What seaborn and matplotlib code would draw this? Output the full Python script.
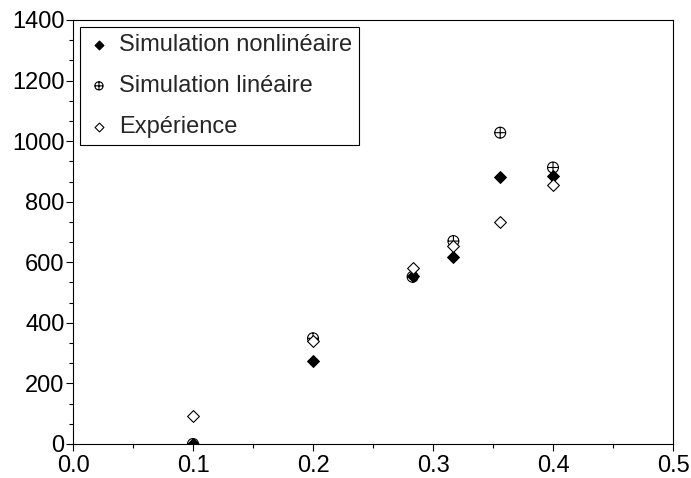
import numpy as np
import pandas as pd
import matplotlib
matplotlib.use('Agg')
import matplotlib.pyplot as plt
from matplotlib.path import Path
from matplotlib.ticker import MultipleLocator, AutoMinorLocator
import seaborn as sns

# ---- data ----
x_vals = [0.1, 0.2, 0.283, 0.317, 0.356, 0.4]
sim_nonlin = [0, 275, 556, 618, 882, 885]
sim_lin = [0, 349, 552, 670, 1028, 913]
experience = [92, 341, 580, 653, 734, 854]

labels = ['Simulation nonlinéaire', 'Simulation linéaire', 'Expérience']

sns.set_theme(style='ticks')
plt.rcParams['font.family'] = ['Liberation Sans', 'DejaVu Sans']

# circle with a cross (⊕) marker
circ = Path.unit_circle()
cross = Path([(-1, 0), (1, 0), (0, -1), (0, 1)],
             [Path.MOVETO, Path.LINETO, Path.MOVETO, Path.LINETO])
oplus = Path.make_compound_path(circ, cross)

fig = plt.figure(figsize=(6.91, 4.78), dpi=100)
ax = fig.add_axes([73 / 691, 34 / 478, 600 / 691, 424 / 478])

df_nl = pd.DataFrame({'x': x_vals, 'y': sim_nonlin})
df_l = pd.DataFrame({'x': x_vals, 'y': sim_lin})
df_e = pd.DataFrame({'x': x_vals, 'y': experience})

sns.scatterplot(data=df_l, x='x', y='y', marker=oplus, s=62,
                facecolor='none', edgecolor='black', linewidth=0.8,
                label=labels[1], ax=ax, zorder=3)
sns.scatterplot(data=df_nl, x='x', y='y', marker='D', s=36,
                color='black', edgecolor='black', linewidth=0.8,
                label=labels[0], ax=ax, zorder=4)
sns.scatterplot(data=df_e, x='x', y='y', marker='D', s=36,
                facecolor='white', edgecolor='black', linewidth=0.8,
                label=labels[2], ax=ax, zorder=5)

ax.set_xlim(0, 0.5)
ax.set_ylim(0, 1400)
ax.xaxis.set_major_locator(MultipleLocator(0.1))
ax.xaxis.set_minor_locator(AutoMinorLocator(2))
ax.yaxis.set_major_locator(MultipleLocator(200))
ax.yaxis.set_minor_locator(AutoMinorLocator(3))
ax.xaxis.set_major_formatter(plt.FuncFormatter(lambda v, p: f'{v:.1f}'))
ax.set_xlabel('')
ax.set_ylabel('')

for sp in ax.spines.values():
    sp.set_visible(True)
    sp.set_linewidth(0.8)
    sp.set_color('black')
ax.tick_params(which='major', direction='out', length=5, width=0.8,
               labelsize=17, colors='black', pad=1)
ax.tick_params(axis='x', which='major', pad=3)
ax.tick_params(which='minor', direction='out', length=3, width=0.8,
               colors='black')
ax.tick_params(top=False, right=False, which='both')

handles, labs = ax.get_legend_handles_labels()
order = [labs.index(l) for l in labels]
leg = ax.legend([handles[i] for i in order], [labs[i] for i in order],
                loc='upper left', fontsize=17, frameon=True, fancybox=False,
                framealpha=1, edgecolor='black', borderaxespad=0.3,
                labelspacing=0.8, handletextpad=0.35, borderpad=0.3,
                handlelength=1.0, markerscale=0.75)
leg.get_frame().set_linewidth(0.8)

plt.savefig('out.png', dpi=100)
